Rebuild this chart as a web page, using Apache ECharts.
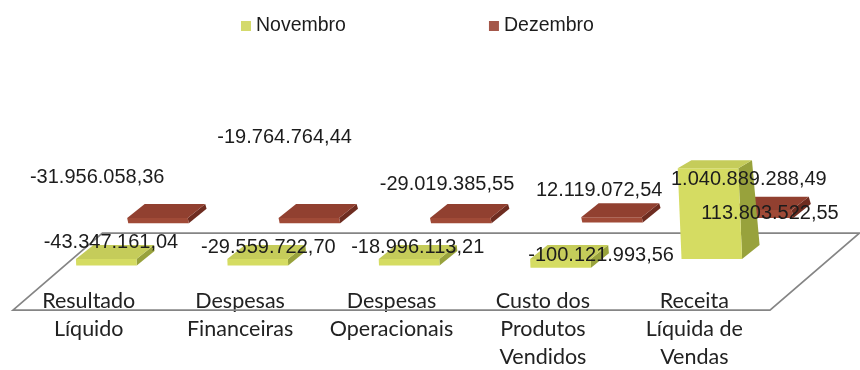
<!DOCTYPE html>
<html>
<head>
<meta charset="utf-8">
<script src="https://cdn.jsdelivr.net/npm/echarts@6/dist/echarts.min.js"></script>
<style>
  html, body { margin: 0; padding: 0; background: #ffffff; }
  #chart { width: 860px; height: 370px; }
</style>
</head>
<body>
<div id="chart"></div>
<script>
// ---- data ----
const categories = [
  'Resultado\nLíquido',
  'Despesas\nFinanceiras',
  'Despesas\nOperacionais',
  'Custo dos\nProdutos\nVendidos',
  'Receita\nLíquida de\nVendas'
];
const novembro = [-43347161.04, -29559722.70, -18996113.21, -100121993.56, 1040889288.49];
const dezembro = [-31956058.36, -19764764.44, -29019385.55, 12119072.54, 113803522.55];
const seriesNames = ['Novembro', 'Dezembro'];

// hidden value axis range
const axisMin = -400000000;
const axisMax = 1200000000;

// ---- pseudo-3D scene layout ----
const HORIZON = 50;          // screen y where depth foreshortening vanishes
const DEPTH_X = 1.25;        // horizontal shift per unit of depth
const FLOOR_DEPTH = 66;
const ROWS = [{ z: 14, d: 14 }, { z: 55, d: 14 }]; // front row, back row
const BAR_FRAC = 0.4;        // bar width as share of the category band
const MIN_THICK = 7;         // minimum drawn slab thickness (px)
const COLORS = [
  { top: '#c5cc5a', front: '#d5dc62', side: '#98a23c', legend: '#d4da6c' },
  { top: '#914030', front: '#a04a37', side: '#6e2c20', legend: '#a4574a' }
];
// value-label placement relative to each bar's top-face centre
const labelShift = [
  [[-4, -10], [2, -5], [0, -5], [32, 3], [34, 15]],
  [[-69, -34], [-33, -74], [-22, -27], [-21, -20], [0, 10]]
];

function project(X, Y, z, R) {
  const fy = (Y - HORIZON) / (R - HORIZON);
  const fx = 1 + 0.5 * (fy - 1);
  return [X + DEPTH_X * z * fx, Y - z * fy];
}

function fmt(v) {
  const neg = v < 0;
  const parts = Math.abs(v).toFixed(2).split('.');
  const int = parts[0].replace(/\B(?=(\d{3})+(?!\d))/g, '.');
  return (neg ? '-' : '') + int + ',' + parts[1];
}

function boxGeometry(api, row) {
  const i = api.value(0), v = api.value(1);
  const zero = api.coord([i, 0]);
  const top = api.coord([i, Math.max(v, 0)]);
  const bot = api.coord([i, Math.min(v, 0)]);
  const yTop = top[1];
  let yBot = bot[1];
  if (yBot - yTop < MIN_THICK) yBot = yTop + MIN_THICK;
  const R = zero[1];
  const half = api.size([1, 0])[0] * BAR_FRAC / 2;
  const z0 = ROWS[row].z, z1 = z0 + ROWS[row].d;
  return { xc: zero[0], xl: zero[0] - half, xr: zero[0] + half, yTop, yBot, R, z0, z1 };
}

function barRenderer(row) {
  const c = COLORS[row];
  return function (params, api) {
    const g = boxGeometry(api, row);
    const P = (x, y, z) => project(x, y, z, g.R);
    const front = [P(g.xl, g.yTop, g.z0), P(g.xr, g.yTop, g.z0), P(g.xr, g.yBot, g.z0), P(g.xl, g.yBot, g.z0)];
    const topF = [P(g.xl, g.yTop, g.z0), P(g.xr, g.yTop, g.z0), P(g.xr, g.yTop, g.z1), P(g.xl, g.yTop, g.z1)];
    const side = [P(g.xr, g.yTop, g.z0), P(g.xr, g.yTop, g.z1), P(g.xr, g.yBot, g.z1), P(g.xr, g.yBot, g.z0)];
    return {
      type: 'group',
      children: [
        { type: 'polygon', shape: { points: side }, style: { fill: c.side } },
        { type: 'polygon', shape: { points: front }, style: { fill: c.front } },
        { type: 'polygon', shape: { points: topF }, style: { fill: c.top } }
      ]
    };
  };
}

function labelRenderer(params, api) {
  const row = api.value(2);
  const g = boxGeometry(api, row);
  const p = project(g.xc, g.yTop, (g.z0 + g.z1) / 2, g.R);
  const sh = labelShift[row][api.value(0)];
  return {
    type: 'text',
    x: p[0] + sh[0],
    y: p[1] + sh[1],
    style: {
      text: fmt(api.value(1)),
      fill: '#1c1c1c',
      fontSize: 20,
      fontFamily: '"Liberation Sans", Arial, sans-serif',
      align: 'center',
      verticalAlign: 'middle'
    }
  };
}

function floorRenderer(params, api) {
  const cs = params.coordSys;
  const Y = api.coord([0, axisMin])[1];
  const R = api.coord([0, 0])[1];
  const x0 = cs.x, x1 = cs.x + cs.width;
  const pts = [
    project(x0, Y, 0, R), project(x1, Y, 0, R),
    project(x1, Y, FLOOR_DEPTH, R), project(x0, Y, FLOOR_DEPTH, R)
  ];
  return {
    type: 'polygon',
    shape: { points: pts },
    style: { fill: 'none', stroke: '#858585', lineWidth: 1.7 }
  };
}

const labelData = [];
novembro.forEach((v, i) => labelData.push([i, v, 0]));
dezembro.forEach((v, i) => labelData.push([i, v, 1]));

const chart = echarts.init(document.getElementById('chart'), null, { renderer: 'canvas' });
chart.setOption({
  backgroundColor: '#ffffff',
  animation: false,
  legend: {
    data: seriesNames,
    left: 236,
    top: 11,
    icon: 'rect',
    itemWidth: 10,
    itemHeight: 10,
    itemGap: 143,
    textStyle: { fontFamily: '"Liberation Sans", Arial, sans-serif', fontSize: 19.5, color: '#1c1c1c' }
  },
  grid: { left: 13, right: 90, top: 161.4, bottom: 59.8, outerBoundsMode: 'none' },
  xAxis: {
    type: 'category',
    data: categories,
    boundaryGap: true,
    axisLine: { show: false },
    axisTick: { show: false },
    splitLine: { show: false },
    axisLabel: {
      interval: 0,
      margin: -23,
      fontFamily: 'Lato, "Open Sans", sans-serif',
      fontSize: 21.5,
      lineHeight: 28,
      color: '#222222'
    }
  },
  yAxis: { type: 'value', min: axisMin, max: axisMax, show: false, splitLine: { show: false } },
  series: [
    { type: 'custom', name: 'floor', renderItem: floorRenderer, data: [[0, 0]], silent: true, z: 1 },
    {
      type: 'custom', name: seriesNames[1], renderItem: barRenderer(1),
      data: dezembro.map((v, i) => [i, v]), itemStyle: { color: COLORS[1].legend }, z: 2
    },
    {
      type: 'custom', name: seriesNames[0], renderItem: barRenderer(0),
      data: novembro.map((v, i) => [i, v]), itemStyle: { color: COLORS[0].legend }, z: 3
    },
    { type: 'custom', name: 'rótulos', renderItem: labelRenderer, data: labelData, silent: true, z: 5 }
  ]
});
</script>
</body>
</html>
